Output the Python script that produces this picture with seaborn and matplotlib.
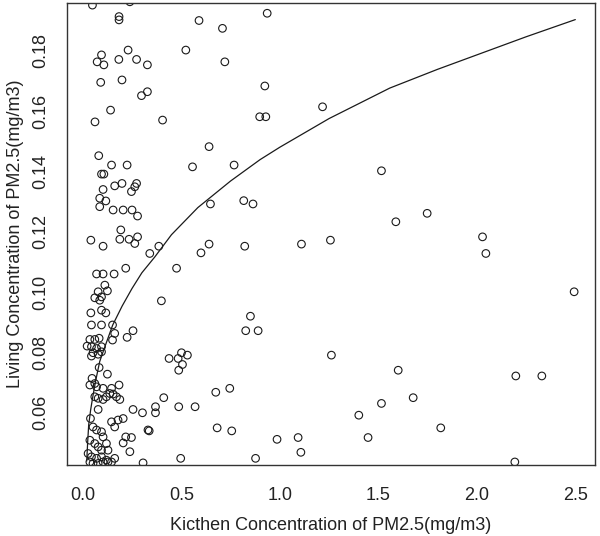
import numpy as np
import pandas as pd
import matplotlib
matplotlib.use("Agg")
import matplotlib.pyplot as plt
import seaborn as sns

# kitchen vs living room PM2.5
kitchen_pm = [
    0.049, 0.239, 0.184, 0.184, 0.59, 0.095, 0.073, 0.107, 0.230, 0.183,
    0.273, 0.328, 0.523, 0.091, 0.199, 0.298, 0.328, 0.141, 0.062, 0.405,
    0.081, 0.146, 0.225, 0.095, 0.107, 0.557, 0.103, 0.162, 0.199, 0.273,
    0.264, 0.247, 0.086, 0.086, 0.117, 0.154, 0.205, 0.250, 0.278, 0.193,
    0.041, 0.103, 0.188, 0.235, 0.278, 0.264, 0.340, 0.386, 0.60,
    0.709, 0.936, 0.721, 0.924, 0.898, 0.929, 1.217, 0.641, 0.768, 1.516,
    0.648, 0.817, 0.864, 0.641, 0.822, 1.110, 1.257,
    0.851, 0.827, 0.890, 1.262, 0.675, 0.746, 0.570, 1.516, 1.401, 0.682,
    0.756, 0.986, 1.093, 1.107, 1.448, 0.877, 0.476, 0.399,
    0.438, 0.484, 0.501, 0.531, 0.506, 0.487,
    0.411, 0.369, 0.369, 0.303, 0.487, 0.337, 0.306, 0.497, 0.331, 0.255, 0.239,
    0.070, 0.103, 0.159, 0.218, 0.112, 0.078, 0.125, 0.061, 0.086, 0.095,
    0.095, 0.117, 0.041, 0.044, 0.095, 0.151, 0.255, 0.225, 0.162, 0.151,
    0.036, 0.061, 0.083, 0.022, 0.044, 0.070, 0.095, 0.052, 0.078, 0.095, 0.044,
    0.083, 0.125, 0.047, 0.061, 0.036, 0.070, 0.103, 0.146, 0.184,
    0.137, 0.154, 0.171, 0.188, 0.061, 0.078, 0.103, 0.120, 0.078, 0.039,
    0.052, 0.070, 0.095, 0.103, 0.146, 0.179, 0.205, 0.162, 0.218, 0.247, 0.205,
    0.036, 0.061, 0.078, 0.095, 0.120, 0.128,
    0.027, 0.044, 0.070, 0.095, 0.120, 0.162,
    0.036, 0.052, 0.078, 0.103, 0.128, 0.146,
    1.589, 1.748, 2.029, 2.046, 2.494, 1.601, 1.677, 2.198, 2.330, 1.817, 2.193,
]
living_pm = [
    0.1951, 0.1962, 0.1913, 0.1902, 0.1900, 0.1786, 0.1763, 0.1753, 0.1802, 0.1771,
    0.1771, 0.1753, 0.1802, 0.1695, 0.1703, 0.1651, 0.1664, 0.1603, 0.1564, 0.1570,
    0.1452, 0.1421, 0.1421, 0.1391, 0.1391, 0.1415, 0.1340, 0.1352, 0.1360, 0.1360,
    0.1349, 0.1333, 0.1311, 0.1283, 0.1302, 0.1272, 0.1272, 0.1272, 0.1252, 0.1206,
    0.1172, 0.1152, 0.1175, 0.1175, 0.1183, 0.1161, 0.1128, 0.1152, 0.1130,
    0.1874, 0.1924, 0.1763, 0.1683, 0.1581, 0.1581, 0.1614, 0.1482, 0.1421, 0.1402,
    0.1292, 0.1303, 0.1292, 0.1159, 0.1152, 0.1159, 0.1172,
    0.0920, 0.0872, 0.0872, 0.0791, 0.0668, 0.0681, 0.0620, 0.0631, 0.0592, 0.0550,
    0.0540, 0.0512, 0.0518, 0.0469, 0.0518, 0.0449, 0.1079, 0.0971,
    0.0780, 0.0780, 0.0799, 0.0791, 0.0760, 0.0741,
    0.0650, 0.0620, 0.0600, 0.0600, 0.0620, 0.0540, 0.0434, 0.0449, 0.0543, 0.0611, 0.0471,
    0.1060, 0.1060, 0.1060, 0.1079, 0.1023, 0.1001, 0.1004, 0.0981, 0.0973, 0.0984,
    0.0940, 0.0931, 0.0931, 0.0891, 0.0891, 0.0891, 0.0872, 0.0850, 0.0863, 0.0841,
    0.0843, 0.0843, 0.0847, 0.0821, 0.0819, 0.0813, 0.0819, 0.0799, 0.0794, 0.0802, 0.0788,
    0.0750, 0.0728, 0.0714, 0.0697, 0.0692, 0.0686, 0.0681, 0.0681, 0.0692,
    0.0664, 0.0662, 0.0653, 0.0644, 0.0653, 0.0648, 0.0644, 0.0653, 0.0611, 0.0581,
    0.0553, 0.0543, 0.0537, 0.0520, 0.0570, 0.0576, 0.0581, 0.0553, 0.0520, 0.0518, 0.0500,
    0.0509, 0.0498, 0.0487, 0.0476, 0.0498, 0.0476,
    0.0465, 0.0454, 0.0449, 0.0454, 0.0443, 0.0449,
    0.0437, 0.0432, 0.0432, 0.0437, 0.0437, 0.0437,
    0.1233, 0.1261, 0.1183, 0.1128, 0.1001, 0.0741, 0.0650, 0.0722, 0.0722, 0.0550, 0.0437,
]

# fitted curve
curve_x = [0.020, 0.025, 0.030, 0.040, 0.050, 0.065, 0.086, 0.11, 0.152, 0.20,
           0.25, 0.30, 0.365, 0.45, 0.584, 0.75, 0.90, 1.0, 1.25, 1.558,
           1.8, 2.0, 2.25, 2.5]
curve_y = [0.0440, 0.0505, 0.0560, 0.0610, 0.0650, 0.0705, 0.0770, 0.0815, 0.0891, 0.0954,
           0.1012, 0.1064, 0.1116, 0.1190, 0.1280, 0.1368, 0.1439, 0.1480, 0.1575, 0.1676,
           0.1738, 0.1786, 0.1846, 0.1903]

x_ticks = [0.0, 0.5, 1.0, 1.5, 2.0, 2.5]
y_ticks = [0.06, 0.08, 0.10, 0.12, 0.14, 0.16, 0.18]

sns.set_style("white")
plt.rcParams["font.family"] = ["Liberation Sans", "DejaVu Sans"]

df = pd.DataFrame({"kitchen": kitchen_pm, "living": living_pm})
fit = pd.DataFrame({"x": curve_x, "y": curve_y})

fig = plt.figure(figsize=(6, 5.36), dpi=100)
ax = fig.add_axes([0.1117, 0.1325, 0.88, 0.8619])

sns.scatterplot(data=df, x="kitchen", y="living", ax=ax, marker="o", s=30,
                facecolor="none", edgecolor="#1a1a1a", linewidth=0.8)
sns.lineplot(data=fit, x="x", y="y", ax=ax, color="#1a1a1a", linewidth=0.9,
             estimator=None)

ax.set_xlim(-0.08, 2.6)
ax.set_ylim(0.0427, 0.1958)
ax.set_xticks(x_ticks)
ax.set_xticklabels([f"{v:.1f}" for v in x_ticks])
ax.set_yticks(y_ticks)
ax.set_yticklabels([f"{v:.2f}" for v in y_ticks], rotation=90, va="center")

for s in ax.spines.values():
    s.set_color("#333333")
    s.set_linewidth(1.0)
ax.tick_params(axis="both", direction="out", length=8, width=0.9,
               color="#333333", labelsize=13, pad=5, labelcolor="#222222")
ax.tick_params(axis="x", pad=8)

ax.set_xlabel("Kicthen Concentration of PM2.5(mg/m3)", fontsize=13,
              color="#222222", labelpad=9)
ax.set_ylabel("Living Concentration of PM2.5(mg/m3)", fontsize=13,
              color="#222222", labelpad=6)

fig.savefig("out.png", dpi=100)
